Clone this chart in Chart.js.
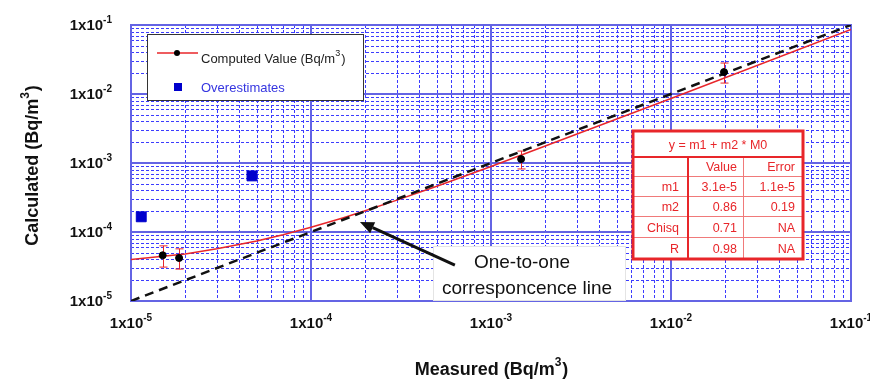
<!DOCTYPE html>
<html>
<head>
<meta charset="utf-8">
<script src="https://cdn.jsdelivr.net/npm/chart.js@4"></script>
<style>
  html, body { margin: 0; padding: 0; background: #fff; }
  canvas { display: block; }
</style>
</head>
<body>
<canvas id="chart" width="870" height="380"></canvas>
<script>
// Values
const tickExponents = [-5, -4, -3, -2, -1];

const computedX = [1.5e-5, 1.85e-5, 1.47e-3, 1.97e-2];
const computedY = [4.6e-5, 4.2e-5, 1.14e-3, 2.08e-2];
const computedLow = [3.1e-5, 2.9e-5, 8.2e-4, 1.44e-2];
const computedHigh = [6.3e-5, 5.7e-5, 1.49e-3, 2.81e-2];

const overX = [1.14e-5, 4.7e-5];
const overY = [1.66e-4, 6.5e-4];

const fitX = [1e-5, 2e-5, 3e-5, 5e-5, 7e-5, 1e-4, 1.5e-4, 2e-4, 3e-4, 5e-4, 1e-3, 1e-2, 1e-1];
const fitY = [4.0e-5, 4.8e-5, 5.7e-5, 7.4e-5, 9.1e-5, 1.17e-4, 1.6e-4, 2.03e-4, 2.9e-4, 4.6e-4, 8.9e-4, 8.6e-3, 8.6e-2];

const oneX = [1e-5, 1e-1];
const oneY = [1e-5, 1e-1];

const arrowTip = { x: 1.87e-4, y: 1.4e-4 };
const arrowTail = { x: 6.3e-4, y: 3.3e-5 };

const tableTitle = 'y = m1 + m2 * M0';
const tableHeader = ['', 'Value', 'Error'];
const tableRows = ['m1', 'm2', 'Chisq', 'R'];
const tableValue = ['3.1e-5', '0.86', '0.71', '0.98'];
const tableError = ['1.1e-5', '0.19', 'NA', 'NA'];

const FONT = '"Liberation Sans", Arial, sans-serif';
const RED = '#e8262a';

const zip = (xs, ys) => xs.map((x, i) => ({ x, y: ys[i] }));

// text with a raised exponent
function drawSup(ctx, base, sup, tail, x, y, align, baseFont, supFont, rise) {
    ctx.font = baseFont;
    const w1 = ctx.measureText(base).width;
    const w3 = tail ? ctx.measureText(tail).width : 0;
    ctx.font = supFont;
    const w2 = ctx.measureText(sup).width;
    const total = w1 + w2 + w3;
    let x0 = x;
    if (align === 'center') x0 = x - total / 2;
    if (align === 'right') x0 = x - total;
    ctx.textAlign = 'left';
    ctx.font = baseFont;
    ctx.fillText(base, x0, y);
    ctx.font = supFont;
    ctx.fillText(sup, x0 + w1, y - rise);
    if (tail) {
        ctx.font = baseFont;
        ctx.fillText(tail, x0 + w1 + w2 + 1, y);
    }
}

const gridPlugin = {
    id: 'logGrid',
    beforeDatasetsDraw(chart) {
        const { ctx, chartArea: a, scales: { x, y } } = chart;
        ctx.save();
        ctx.fillStyle = '#fff';
        ctx.fillRect(a.left, a.top, a.right - a.left, a.bottom - a.top);
        // minor dotted lines
        ctx.strokeStyle = '#3c3cff';
        ctx.lineWidth = 1;
        ctx.setLineDash([3, 2]);
        tickExponents.slice(0, -1).forEach(e => {
            for (let m = 2; m <= 9; m++) {
                const v = m * Math.pow(10, e);
                const px = Math.round(x.getPixelForValue(v)) + 0.5;
                const py = Math.round(y.getPixelForValue(v)) + 0.5;
                ctx.beginPath();
                ctx.moveTo(px, a.top); ctx.lineTo(px, a.bottom);
                ctx.moveTo(a.left, py); ctx.lineTo(a.right, py);
                ctx.stroke();
            }
        });
        // major solid lines
        ctx.setLineDash([]);
        ctx.strokeStyle = '#6464e4';
        ctx.lineWidth = 2;
        tickExponents.forEach(e => {
            const v = Math.pow(10, e);
            const px = x.getPixelForValue(v);
            const py = y.getPixelForValue(v);
            ctx.beginPath();
            ctx.moveTo(px, a.top); ctx.lineTo(px, a.bottom);
            ctx.moveTo(a.left, py); ctx.lineTo(a.right, py);
            ctx.stroke();
        });
        ctx.strokeRect(a.left, a.top, a.right - a.left, a.bottom - a.top);

        // error bars
        ctx.strokeStyle = RED;
        ctx.lineWidth = 1;
        computedX.forEach((cx, i) => {
            const px = Math.round(x.getPixelForValue(cx)) + 0.5;
            const lo = y.getPixelForValue(computedLow[i]);
            const hi = y.getPixelForValue(computedHigh[i]);
            ctx.beginPath();
            ctx.moveTo(px, lo); ctx.lineTo(px, hi);
            ctx.moveTo(px - 4, lo); ctx.lineTo(px + 4, lo);
            ctx.moveTo(px - 4, hi); ctx.lineTo(px + 4, hi);
            ctx.stroke();
        });
        ctx.restore();
    },
    afterDraw(chart) {
        const { ctx, chartArea: a, scales: { x, y } } = chart;
        ctx.save();
        ctx.fillStyle = '#111';
        ctx.textBaseline = 'alphabetic';

        // tick labels
        tickExponents.forEach(e => {
            const v = Math.pow(10, e);
            drawSup(ctx, '1x10', String(e), '', a.left - 19, y.getPixelForValue(v) + 5, 'right',
                'bold 15px ' + FONT, 'bold 10px ' + FONT, 7);
            drawSup(ctx, '1x10', String(e), '', x.getPixelForValue(v), a.bottom + 27, 'center',
                'bold 15px ' + FONT, 'bold 10px ' + FONT, 7);
        });

        // axis titles
        drawSup(ctx, 'Measured (Bq/m', '3', ')', (a.left + a.right) / 2, 375, 'center',
            'bold 18px ' + FONT, 'bold 12px ' + FONT, 9);
        ctx.save();
        ctx.translate(38, (a.top + a.bottom) / 2 + 3);
        ctx.rotate(-Math.PI / 2);
        drawSup(ctx, 'Calculated (Bq/m', '3', ')', 0, 0, 'center',
            'bold 18px ' + FONT, 'bold 12px ' + FONT, 9);
        ctx.restore();

        // legend
        ctx.fillStyle = '#fff';
        ctx.fillRect(147, 34, 216, 66);
        ctx.strokeStyle = '#333';
        ctx.lineWidth = 1;
        ctx.strokeRect(147.5, 34.5, 216, 66);
        ctx.strokeStyle = RED;
        ctx.lineWidth = 1.5;
        ctx.beginPath(); ctx.moveTo(157, 53); ctx.lineTo(198, 53); ctx.stroke();
        ctx.fillStyle = '#000';
        ctx.beginPath(); ctx.arc(177, 53, 3, 0, Math.PI * 2); ctx.fill();
        ctx.fillStyle = '#222';
        drawSup(ctx, 'Computed Value (Bq/m', '3', ')', 201, 63, 'left',
            '13px ' + FONT, '9px ' + FONT, 7);
        ctx.fillStyle = '#0000cc';
        ctx.fillRect(174, 83, 8, 8);
        ctx.fillStyle = '#3535e0';
        ctx.font = '13px ' + FONT;
        ctx.fillText('Overestimates', 201, 92);

        // fit table
        const tx = [633, 688, 743, 803];
        const ty = [131, 157, 176, 196, 216, 237, 259];
        ctx.fillStyle = '#fff';
        ctx.fillRect(tx[0], ty[0], tx[3] - tx[0], ty[6] - ty[0]);
        ctx.strokeStyle = '#f07a7a';
        ctx.lineWidth = 1;
        ctx.beginPath();
        for (let r = 2; r < 6; r++) { ctx.moveTo(tx[0], ty[r] + 0.5); ctx.lineTo(tx[3], ty[r] + 0.5); }
        ctx.moveTo(tx[2] + 0.5, ty[1]); ctx.lineTo(tx[2] + 0.5, ty[6]);
        ctx.stroke();
        ctx.strokeStyle = RED;
        ctx.lineWidth = 2;
        ctx.beginPath();
        ctx.moveTo(tx[0], ty[1]); ctx.lineTo(tx[3], ty[1]);
        ctx.moveTo(tx[1], ty[1]); ctx.lineTo(tx[1], ty[6]);
        ctx.stroke();
        ctx.lineWidth = 3;
        ctx.strokeRect(tx[0], ty[0], tx[3] - tx[0], ty[6] - ty[0]);

        ctx.fillStyle = RED;
        ctx.font = '12.5px ' + FONT;
        ctx.textAlign = 'center';
        ctx.fillText(tableTitle, (tx[0] + tx[3]) / 2, ty[0] + 18);
        ctx.textAlign = 'right';
        ctx.fillText(tableHeader[1], tx[2] - 6, ty[1] + 14);
        ctx.fillText(tableHeader[2], tx[3] - 8, ty[1] + 14);
        tableRows.forEach((name, i) => {
            const by = (ty[i + 2] + ty[i + 3]) / 2 + 5;
            ctx.fillText(name, tx[1] - 9, by);
            ctx.fillText(tableValue[i], tx[2] - 6, by);
            ctx.fillText(tableError[i], tx[3] - 8, by);
        });

        // one-to-one annotation
        ctx.fillStyle = '#fff';
        ctx.fillRect(433, 246, 192, 54);
        ctx.strokeStyle = '#e4e4e4';
        ctx.lineWidth = 1;
        ctx.strokeRect(433.5, 246.5, 192, 54);
        ctx.fillStyle = '#111';
        ctx.font = '19px ' + FONT;
        ctx.textAlign = 'center';
        ctx.fillText('One-to-one', 522, 268);
        ctx.fillText('corresponcence line', 527, 294);

        const p1 = { x: x.getPixelForValue(arrowTail.x), y: y.getPixelForValue(arrowTail.y) };
        const p2 = { x: x.getPixelForValue(arrowTip.x), y: y.getPixelForValue(arrowTip.y) };
        const ang = Math.atan2(p2.y - p1.y, p2.x - p1.x);
        const hl = 14, hw = 6;
        const bx = p2.x - hl * Math.cos(ang), by = p2.y - hl * Math.sin(ang);
        ctx.strokeStyle = '#111';
        ctx.lineWidth = 3;
        ctx.beginPath(); ctx.moveTo(p1.x, p1.y); ctx.lineTo(bx, by); ctx.stroke();
        ctx.fillStyle = '#111';
        ctx.beginPath();
        ctx.moveTo(p2.x, p2.y);
        ctx.lineTo(bx + hw * Math.sin(ang), by - hw * Math.cos(ang));
        ctx.lineTo(bx - hw * Math.sin(ang), by + hw * Math.cos(ang));
        ctx.closePath();
        ctx.fill();
        ctx.restore();
    }
};

new Chart(document.getElementById('chart'), {
    type: 'scatter',
    data: {
        datasets: [
            {
                label: 'Computed Value',
                data: zip(computedX, computedY),
                backgroundColor: '#000',
                borderColor: '#000',
                pointRadius: 3.5,
                order: 0
            },
            {
                label: 'Overestimates',
                data: zip(overX, overY),
                pointStyle: 'rect',
                backgroundColor: '#0000cc',
                borderColor: '#0000cc',
                pointRadius: 7,
                order: 1
            },
            {
                label: 'One-to-one',
                data: zip(oneX, oneY),
                showLine: true,
                borderColor: '#111',
                borderWidth: 2.5,
                borderDash: [9, 6],
                pointRadius: 0,
                order: 2
            },
            {
                label: 'Fit',
                data: zip(fitX, fitY),
                showLine: true,
                borderColor: RED,
                borderWidth: 1.5,
                pointRadius: 0,
                order: 3
            }
        ]
    },
    options: {
        responsive: false,
        animation: false,
        devicePixelRatio: 1,
        layout: { padding: { left: 131, right: 19, top: 25, bottom: 79 } },
        plugins: { legend: { display: false }, tooltip: { enabled: false } },
        scales: {
            x: { type: 'logarithmic', min: 1e-5, max: 1e-1, display: false },
            y: { type: 'logarithmic', min: 1e-5, max: 1e-1, display: false }
        }
    },
    plugins: [gridPlugin]
});
</script>
</body>
</html>
